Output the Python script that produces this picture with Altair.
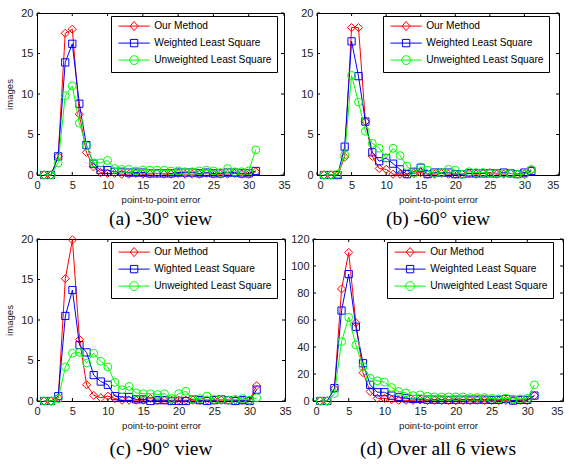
import altair as alt
import pandas as pd

# ---------------- data ----------------
err = list(range(1, 32))
names_std = ["Our Method", "Weighted Least Square", "Unweighted Least Square"]
names_c = ["Our Method", "Wighted Least Square", "Unweighted Least Square"]
colors = ["#ff0000", "#0000ff", "#00ff00"]
marker_shapes = ["diamond", "square", "circle"]
marker_sizes = [66, 52, 62]
x_ticks = [0, 5, 10, 15, 20, 25, 30, 35]
y_ticks_20 = [0, 5, 10, 15, 20]
y_ticks_120 = [0, 20, 40, 60, 80, 100, 120]

# (a) -30 view
a_our = [0, 0, 2.3, 17.5, 18.0, 7.5, 2.8, 1.0, 0.3, 0.2, 0.2, 0.1, 0.1, 0.2, 0.1, 0.1,
         0.2, 0.1, 0.1, 0.2, 0.1, 0.1, 0.1, 0.2, 0.1, 0.1, 0.1, 0.2, 0.1, 0.1, 0.4]
a_wls = [0, 0, 2.3, 13.9, 16.2, 8.8, 3.7, 1.4, 0.6, 0.6, 0.4, 0.4, 0.3, 0.3, 0.3, 0.2,
         0.2, 0.2, 0.2, 0.3, 0.3, 0.3, 0.2, 0.3, 0.2, 0.2, 0.3, 0.3, 0.2, 0.2, 0.5]
a_uls = [0, 0, 1.5, 9.8, 11.0, 6.4, 3.6, 1.5, 1.5, 1.8, 0.8, 0.7, 0.7, 0.5, 0.6, 0.6,
         0.6, 0.6, 0.5, 0.5, 0.4, 0.4, 0.5, 0.6, 0.5, 0.3, 0.8, 0.4, 0.4, 0.5, 3.1]
# (b) -60 view
b_our = [0, 0, 0, 2.2, 18.2, 18.2, 6.6, 2.3, 0.8, 0.7, 0.1, 0.1, 0.1, 0.2, 0.3, 0.1,
         0.1, 0.2, 0.1, 0.1, 0.1, 0.2, 0.1, 0.2, 0.3, 0.1, 0.1, 0.2, 0.1, 0.1, 0.6]
b_wls = [0, 0, 0, 3.5, 16.5, 12.2, 6.6, 2.8, 1.7, 2.1, 1.4, 0.7, 0.1, 0.4, 0.9, 0.1,
         0.3, 0.3, 0.3, 0.1, 0.1, 0.2, 0.2, 0.2, 0.2, 0.2, 0.3, 0.2, 0.1, 0.3, 0.5]
b_uls = [0, 0, 0.1, 2.5, 12.3, 9.0, 5.4, 3.9, 3.3, 2.1, 3.3, 2.4, 1.1, 0.2, 1.0, 0.6,
         0.2, 0.3, 0.7, 0.6, 0.1, 0.4, 0.3, 0.3, 0.2, 0.2, 0.2, 0.2, 0.1, 0.1, 0.7]
# (c) -90 view
c_our = [0, 0, 0.4, 15.1, 19.9, 7.6, 2.0, 0.7, 0.4, 0.6, 0.3, 0.1, 0.1, 0.1, 0.1, 0.3,
         0.1, 0.1, 0.1, 0.1, 0.1, 0.1, 0.1, 0.1, 0.1, 0.1, 0.1, 0.1, 0.1, 0.1, 1.9]
c_wls = [0, 0, 0.6, 10.5, 13.7, 6.9, 6.0, 3.2, 2.4, 2.0, 0.6, 0.5, 0.5, 0.2, 0.2, 0.0,
         0.1, 0.1, 0.0, 0.0, 0.0, 0.2, 0.1, 0.0, 0.1, 0.2, 0.1, 0.0, 0.1, 0.0, 1.4]
c_uls = [0, 0, 0.3, 4.2, 5.9, 6.0, 4.7, 5.9, 4.9, 4.2, 2.3, 1.4, 1.8, 1.0, 0.9, 0.9,
         0.8, 0.9, 0.3, 0.9, 1.2, 0.2, 0.3, 0.6, 0.2, 0.2, 0.1, 0.2, 0.3, 0.1, 0.4]
# (d) over all 6 views
d_our = [0, 0, 9, 83, 110, 58, 21, 7, 2, 2, 1, 0.5, 0.5, 0.5, 0.8, 0.3,
         0.5, 0.3, 0.5, 0.3, 0.5, 0.3, 0.5, 0.3, 0.5, 0.3, 0.5, 0.3, 0.5, 0.3, 4]
d_wls = [0, 0, 9.5, 67, 94, 55, 28, 12, 6.5, 6.5, 4, 3, 2, 1.5, 1.5, 1,
         1, 1, 0.8, 1, 1, 1, 1, 1, 0.8, 0.8, 1.5, 0.3, 0.8, 0.8, 4]
d_uls = [0, 0, 5.5, 44, 62, 41.5, 25.5, 17, 15, 14, 10, 7, 6, 4, 4.5, 3.5,
         3, 3, 3, 3, 3, 2.5, 2.5, 2.5, 2, 1.5, 2, 1.5, 1.5, 2, 12]

# legend symbols: line segment with the hollow marker on it
legend_paths = [
    "M-3.9,0H3.9M0,-1.15L1,0L0,1.15L-1,0Z",
    "M-3.9,0H3.9M-0.92,-0.92H0.92V0.92H-0.92Z",
    "M-3.9,0H3.9M1.1,0A1.1,1.1,0,1,1,-1.1,0A1.1,1.1,0,1,1,1.1,0Z",
]

FONT = "Liberation Sans"
SERIF = "Liberation Serif"
TXT = "#222222"


def panel(series, names, y_ticks, caption, W, H, ytitle, leg_x, flush, cap_offset):
    rows = []
    for name, vals in zip(names, series):
        for xi, yi in zip(err, vals):
            rows.append({"err": xi, "count": yi, "method": name})
    df = pd.DataFrame(rows)
    ymax = y_ticks[-1]
    xs = alt.Scale(domain=[0, 35], nice=False, zero=False)
    ys = alt.Scale(domain=[0, ymax], nice=False)
    xax = alt.Axis(values=x_ticks, title="point-to-point error", labelFlush=flush,
                   labelPadding=4, titlePadding=4, labelOverlap=False)
    yax = alt.Axis(values=y_ticks, title=("images" if ytitle else None),
                   labelPadding=4, titlePadding=6, labelOverlap=False)

    layers = []
    # inward tick marks (MATLAB style box)
    xt = pd.DataFrame({"err": x_ticks})
    yt = pd.DataFrame({"count": y_ticks})
    layers.append(alt.Chart(xt).mark_rule(color="black", strokeWidth=1).encode(
        x=alt.X("err:Q", scale=xs, axis=xax), y=alt.value(H), y2=alt.value(H - 3)))
    layers.append(alt.Chart(xt).mark_rule(color="black", strokeWidth=1).encode(
        x=alt.X("err:Q", axis=xax), y=alt.value(0), y2=alt.value(3)))
    layers.append(alt.Chart(yt).mark_rule(color="black", strokeWidth=1).encode(
        y=alt.Y("count:Q", scale=ys, axis=yax), x=alt.value(0), x2=alt.value(3)))
    layers.append(alt.Chart(yt).mark_rule(color="black", strokeWidth=1).encode(
        y=alt.Y("count:Q", axis=yax), x=alt.value(W - 3), x2=alt.value(W)))

    for i, name in enumerate(names):
        base = alt.Chart(df).transform_filter(alt.datum.method == name)
        layers.append(base.mark_line(color=colors[i], strokeWidth=1).encode(
            x=alt.X("err:Q", axis=xax), y=alt.Y("count:Q", axis=yax)))
        layers.append(base.mark_point(shape=marker_shapes[i], color=colors[i],
                                      size=marker_sizes[i], strokeWidth=1,
                                      filled=False, opacity=1).encode(
            x=alt.X("err:Q", axis=xax), y=alt.Y("count:Q", axis=yax)))

    leg = alt.Legend(title=None, orient="none", legendX=leg_x, legendY=3,
                     direction="vertical", symbolSize=64, symbolStrokeWidth=1,
                     symbolOffset=13, labelOffset=15, rowPadding=4, padding=5,
                     strokeColor="black", fillColor="white", labelFont=FONT,
                     labelFontSize=10.2, labelColor="black", cornerRadius=0)
    layers.append(alt.Chart(df).transform_filter("false").mark_point(
        filled=False, opacity=1, strokeWidth=1).encode(
        x=alt.X("err:Q", axis=xax), y=alt.Y("count:Q", axis=yax),
        color=alt.Color("method:N", scale=alt.Scale(domain=names, range=colors), legend=leg),
        shape=alt.Shape("method:N", scale=alt.Scale(domain=names, range=legend_paths), legend=leg),
    ))

    return alt.layer(*layers).properties(
        width=W, height=H,
        title=alt.TitleParams(caption, orient="bottom", anchor="middle", font=SERIF,
                              fontSize=19.5, fontWeight="normal", color="black",
                              offset=cap_offset),
    )


pa = panel([a_our, a_wls, a_uls], names_std, y_ticks_20, "(a) -30° view", 247, 162, True, 74, False, 6)
pb = panel([b_our, b_wls, b_uls], names_std, y_ticks_20, "(b) -60° view", 242, 162, False, 66, True, 6)
pc = panel([c_our, c_wls, c_uls], names_c, y_ticks_20, "(c) -90° view", 248, 162, True, 74, False, 10)
pd_ = panel([d_our, d_wls, d_uls], names_std, y_ticks_120, "(d) Over all 6 views", 250, 162, False, 74, True, 10)

row1 = alt.hconcat(pa, pb, spacing=33, bounds="flush").resolve_scale(
    color="independent", shape="independent").resolve_legend(color="independent", shape="independent")
row2 = alt.hconcat(pc, pd_, spacing=28, bounds="flush").resolve_scale(
    color="independent", shape="independent").resolve_legend(color="independent", shape="independent")

chart = alt.vconcat(row1, row2, spacing=3).resolve_scale(
    color="independent", shape="independent").resolve_legend(
    color="independent", shape="independent").properties(
    padding={"left": 4, "top": 6, "right": 1, "bottom": 1},
    background="white",
).configure_view(stroke="black", strokeWidth=1).configure_axis(
    domain=False, ticks=False, tickSize=0, grid=False, labelOverlap=False,
    labelFont=FONT, labelFontSize=11, labelColor=TXT,
    titleFont=FONT, titleFontSize=9.6, titleFontWeight="normal", titleColor=TXT,
)

chart.save("out.html", embed_options={"renderer": "svg", "actions": False})
